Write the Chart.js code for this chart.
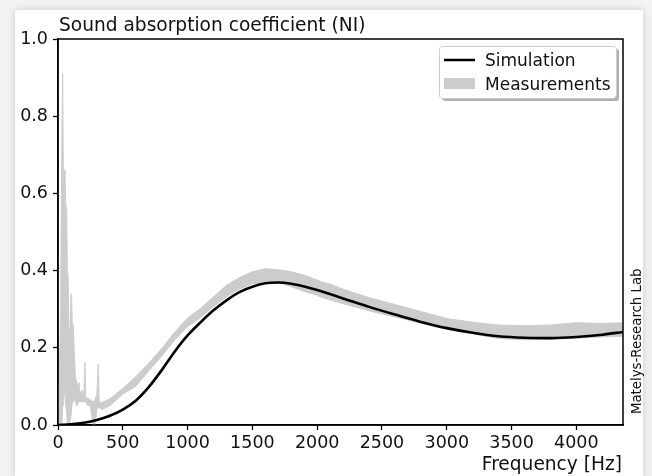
<!DOCTYPE html>
<html>
<head>
<meta charset="utf-8">
<script src="https://cdn.jsdelivr.net/npm/chart.js@4/dist/chart.umd.min.js"></script>
<style>
  html, body { margin:0; padding:0; width:652px; height:476px; overflow:hidden; background:#f3f3f3; }
  #card { position:absolute; left:15px; top:10px; width:628px; height:470px; background:#fff; box-shadow:0 0 8px rgba(0,0,0,0.16); }
  #c { position:absolute; left:0; top:0; }
</style>
</head>
<body>
<div id="card"></div>
<canvas id="c" width="652" height="476"></canvas>
<script>
// ---- data ----
const chartTitle = "Sound absorption coefficient (NI)";
const xLabel = "Frequency [Hz]";
const sideNote = "Matelys-Research Lab";
const simLabel = "Simulation";
const measLabel = "Measurements";

const xTicks = [0, 500, 1000, 1500, 2000, 2500, 3000, 3500, 4000];
const yTicks = [0.0, 0.2, 0.4, 0.6, 0.8, 1.0];
const xMax = 4360;

const simFreq  = [0, 100, 200, 300, 400, 500, 600, 700, 800, 900, 1000, 1100, 1200, 1300, 1400, 1500, 1600, 1700, 1800, 1900, 2000, 2200, 2400, 2600, 2800, 3000, 3200, 3400, 3600, 3800, 4000, 4200, 4360];
const simAlpha = [0, 0.002, 0.006, 0.013, 0.024, 0.04, 0.063, 0.098, 0.142, 0.19, 0.232, 0.266, 0.297, 0.323, 0.344, 0.358, 0.367, 0.369, 0.366, 0.359, 0.35, 0.328, 0.306, 0.286, 0.267, 0.251, 0.239, 0.23, 0.226, 0.225, 0.228, 0.234, 0.241];

const measFreq = [0, 10, 20, 30, 36, 42, 48, 54, 60, 67, 72, 78, 85, 92, 100, 106, 112, 118, 125, 135, 145, 155, 162, 170, 185, 200, 208, 214, 230, 250, 270, 285, 300, 311, 318, 340, 400, 500, 600, 700, 800, 900, 1000, 1100, 1200, 1300, 1400, 1500, 1600, 1700, 1800, 1900, 1980, 2040, 2100, 2200, 2400, 2600, 2800, 3000, 3200, 3400, 3600, 3800, 4000, 4200, 4360];
const measLow  = [0, 0, 0, 0, 0.05, 0.05, 0.1, 0.1, 0.05, 0.03, 0, 0, 0, 0, 0.02, 0.05, 0.06, 0.06, 0.07, 0.06, 0.05, 0.06, 0.06, 0.06, 0.06, 0.06, 0.06, 0.06, 0.05, 0.05, 0, 0, 0.04, 0.045, 0.045, 0.04, 0.05, 0.08, 0.10, 0.14, 0.178, 0.22, 0.255, 0.278, 0.307, 0.332, 0.352, 0.366, 0.371, 0.37, 0.358, 0.346, 0.338, 0.33, 0.324, 0.314, 0.296, 0.28, 0.264, 0.248, 0.236, 0.224, 0.221, 0.222, 0.225, 0.228, 0.23];
const measHigh = [0.10, 0.12, 0.30, 0.75, 0.91, 0.60, 0.66, 0.65, 0.57, 0.56, 0.40, 0.39, 0.25, 0.20, 0.34, 0.33, 0.22, 0.26, 0.19, 0.12, 0.11, 0.10, 0.11, 0.08, 0.09, 0.08, 0.163, 0.07, 0.07, 0.065, 0.06, 0.065, 0.08, 0.158, 0.06, 0.058, 0.068, 0.095, 0.125, 0.16, 0.198, 0.24, 0.277, 0.302, 0.332, 0.362, 0.382, 0.397, 0.405, 0.402, 0.397, 0.388, 0.378, 0.37, 0.365, 0.352, 0.33, 0.312, 0.294, 0.276, 0.266, 0.259, 0.257, 0.259, 0.265, 0.263, 0.265];

// ---- chart ----
const FONT = "'DejaVu Sans', sans-serif";
const toXY = (xs, ys) => xs.map((x, i) => ({ x: x, y: ys[i] }));

const extras = {
  id: 'extras',
  afterDraw(chart) {
    const { ctx, chartArea: a } = chart;
    ctx.save();
    // full frame (spines)
    ctx.strokeStyle = '#000';
    ctx.lineWidth = 1.5;
    ctx.strokeRect(a.left, a.top, a.right - a.left, a.bottom - a.top);
    // title
    ctx.fillStyle = '#111';
    ctx.font = '18.6px ' + FONT;
    ctx.textAlign = 'left';
    ctx.textBaseline = 'alphabetic';
    ctx.fillText(chartTitle, a.left + 1, a.top - 8);
    // x label
    ctx.textAlign = 'right';
    ctx.fillText(xLabel, a.right - 1, 470);
    // side note
    ctx.font = '13.3px ' + FONT;
    ctx.save();
    ctx.translate(a.right + 18, a.bottom - 11);
    ctx.rotate(-Math.PI / 2);
    ctx.textAlign = 'left';
    ctx.fillText(sideNote, 0, 0);
    ctx.restore();
    // legend
    const lx = a.right - 184, ly = a.top + 7, lw = 177, lh = 52;
    const rr = (x, y, w, h, r) => {
      ctx.beginPath();
      ctx.moveTo(x + r, y);
      ctx.arcTo(x + w, y, x + w, y + h, r);
      ctx.arcTo(x + w, y + h, x, y + h, r);
      ctx.arcTo(x, y + h, x, y, r);
      ctx.arcTo(x, y, x + w, y, r);
      ctx.closePath();
    };
    ctx.fillStyle = '#b0b0b0';
    rr(lx + 3, ly + 3, lw, lh, 3); ctx.fill();
    ctx.fillStyle = '#fff';
    rr(lx, ly, lw, lh, 3); ctx.fill();
    ctx.strokeStyle = '#cccccc'; ctx.lineWidth = 1;
    rr(lx + 0.5, ly + 0.5, lw, lh, 3); ctx.stroke();
    ctx.strokeStyle = '#000'; ctx.lineWidth = 2.5;
    ctx.beginPath(); ctx.moveTo(lx + 5, ly + 14); ctx.lineTo(lx + 36, ly + 14); ctx.stroke();
    ctx.fillStyle = '#cccccc';
    ctx.fillRect(lx + 5, ly + 32, 31, 11);
    ctx.fillStyle = '#111';
    ctx.font = '17px ' + FONT;
    ctx.textAlign = 'left';
    ctx.fillText(simLabel, lx + 46, ly + 20);
    ctx.fillText(measLabel, lx + 46, ly + 44);
    ctx.restore();
  }
};

Chart.defaults.font.family = FONT;
Chart.defaults.color = '#111';

new Chart(document.getElementById('c'), {
  type: 'line',
  data: {
    datasets: [
      { label: simLabel, data: toXY(simFreq, simAlpha), borderColor: '#000', borderWidth: 2.6,
        pointRadius: 0, cubicInterpolationMode: 'monotone', fill: false },
      { label: measLabel + ' low', data: toXY(measFreq, measLow), borderColor: '#cccccc', borderWidth: 1,
        pointRadius: 0, fill: false },
      { label: measLabel, data: toXY(measFreq, measHigh), borderColor: '#cccccc', borderWidth: 1,
        backgroundColor: '#cccccc', pointRadius: 0, fill: '-1' }
    ]
  },
  options: {
    responsive: false,
    animation: false,
    layout: { padding: { top: 39, right: 29, left: 0, bottom: 0 } },
    plugins: { legend: { display: false }, title: { display: false }, tooltip: { enabled: false } },
    scales: {
      x: {
        type: 'linear', min: 0, max: xMax,
        afterBuildTicks: s => { s.ticks = xTicks.map(v => ({ value: v })); },
        afterFit: s => { s.height = 51; },
        grid: { drawOnChartArea: false, drawTicks: true, tickLength: 5, color: '#000', tickWidth: 1.3 },
        border: { display: true, color: '#000', width: 1.5 },
        ticks: { font: { size: 17.5 }, color: '#111', padding: 3, maxRotation: 0, autoSkip: false, callback: v => String(v) }
      },
      y: {
        type: 'linear', min: 0, max: 1,
        afterBuildTicks: s => { s.ticks = yTicks.map(v => ({ value: v })); },
        afterFit: s => { s.width = 58; },
        grid: { drawOnChartArea: false, drawTicks: true, tickLength: 5, color: '#000', tickWidth: 1.3 },
        border: { display: true, color: '#000', width: 1.5 },
        ticks: { font: { size: 17.5 }, color: '#111', padding: 5, autoSkip: false, callback: v => Number(v).toFixed(1) }
      }
    }
  },
  plugins: [extras]
});
</script>
</body>
</html>
